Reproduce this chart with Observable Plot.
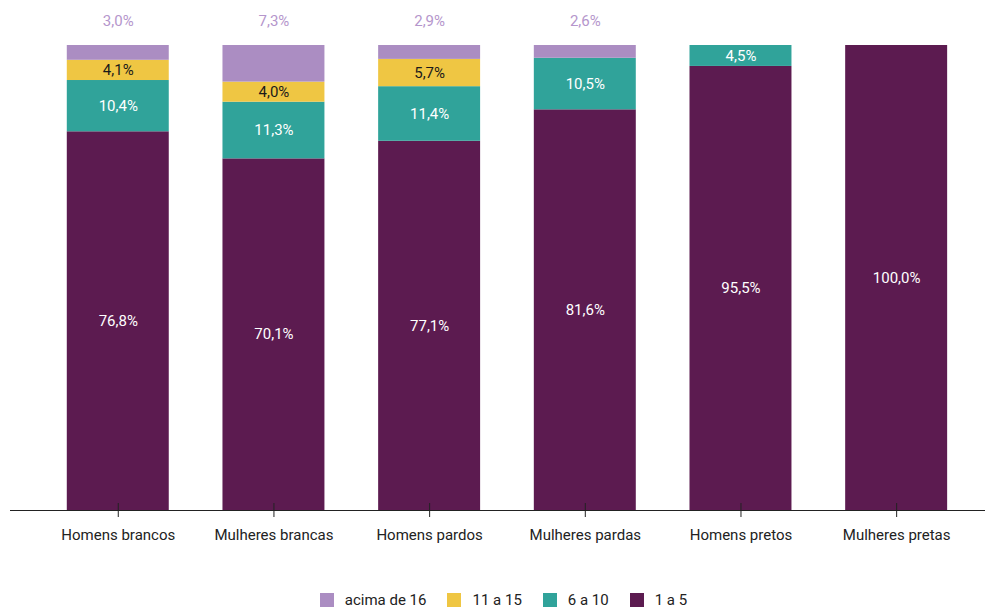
<!DOCTYPE html>
<html>
<head>
<meta charset="utf-8">
<script src="https://cdn.jsdelivr.net/npm/d3@7"></script>
<script src="https://cdn.jsdelivr.net/npm/@observablehq/plot@0.6"></script>
<style>
  html, body { margin: 0; padding: 0; background: #fff; }
  body { width: 985px; height: 608px; overflow: hidden; font-family: Roboto, sans-serif; }
  #chart svg { display: block; }
  #legend { display: flex; justify-content: center; align-items: center; padding-left: 22px; margin-top: 23px; height: 14px; font-size: 15px; color: #222; }
  .item { display: flex; align-items: center; margin-right: 21px; }
  .item:last-child { margin-right: 0; }
  .sw { width: 14px; height: 14px; margin-right: 11px; }
</style>
</head>
<body>
<div id="chart"></div>
<div id="legend"></div>
<script>
const categories = ["Homens brancos", "Mulheres brancas", "Homens pardos", "Mulheres pardas", "Homens pretos", "Mulheres pretas"];
const series = ["1 a 5", "6 a 10", "11 a 15", "acima de 16"];
const v1a5   = [76.8, 70.1, 77.1, 81.6, 95.5, 100.0];
const v6a10  = [10.4, 11.3, 11.4, 10.5, 4.5, 0];
const v11a15 = [4.1, 4.0, 5.7, 0, 0, 0];
const vAcima = [3.0, 7.3, 2.9, 2.6, 0, 0];
const colors = ["#5c1b50", "#30a39a", "#efc643", "#ab8dc2"];
const legendOrder = ["acima de 16", "11 a 15", "6 a 10", "1 a 5"];

const seriesValues = [v1a5, v6a10, v11a15, vAcima];
const data = [];
series.forEach((s, si) => {
  categories.forEach((c, ci) => {
    data.push({categoria: c, serie: s, valor: seriesValues[si][ci]});
  });
});
const fmt = v => v.toFixed(1).replace(".", ",") + "%";

const chart = Plot.plot({
  width: 985,
  height: 570,
  marginTop: 45,
  marginBottom: 60,
  marginLeft: 10,
  marginRight: 0,
  style: {fontFamily: "Roboto, sans-serif", fontSize: "15px", background: "white"},
  x: {domain: categories, paddingInner: 0.345, paddingOuter: 0.304, align: 0.6, round: false, label: null},
  y: {axis: null, domain: [0, 1]},
  color: {domain: series, range: colors},
  marks: [
    Plot.barY(data, Plot.stackY({x: "categoria", y: "valor", z: "serie", fill: "serie", offset: "normalize", order: series})),
    Plot.text(data, Plot.stackY({
      x: "categoria", y: "valor", z: "serie", offset: "normalize", order: series,
      text: d => (d.serie === "acima de 16" || d.valor === 0) ? "" : fmt(d.valor),
      fill: d => d.serie === "11 a 15" ? "#1a1a1a" : "white",
      fontSize: 15
    })),
    Plot.text(data, Plot.stackY2({
      x: "categoria", y: "valor", z: "serie", offset: "normalize", order: series,
      text: d => (d.serie === "acima de 16" && d.valor > 0) ? fmt(d.valor) : "",
      fill: "#b596cc",
      dy: -24,
      fontSize: 15
    })),
    Plot.ruleY([0], {stroke: "#222", strokeWidth: 1}),
    Plot.axisX({tickSize: 7, tickPadding: 12, fontSize: 15, fill: "#222", stroke: "#222", label: null}),
    Plot.ruleX(categories, {x: d => d, y1: 0, y2: 0, insetTop: -7, insetBottom: 0, stroke: "#222", strokeWidth: 1})
  ]
});
document.getElementById("chart").appendChild(chart);

const leg = document.getElementById("legend");
legendOrder.forEach(s => {
  const item = document.createElement("div");
  item.className = "item";
  const sw = document.createElement("div");
  sw.className = "sw";
  sw.style.background = colors[series.indexOf(s)];
  const t = document.createElement("span");
  t.textContent = s;
  item.appendChild(sw);
  item.appendChild(t);
  leg.appendChild(item);
});
</script>
</body>
</html>
